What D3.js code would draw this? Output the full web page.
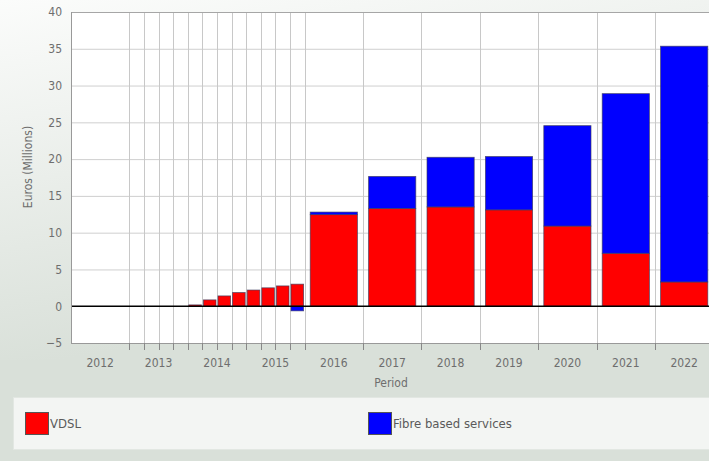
<!DOCTYPE html>
<html>
<head>
<meta charset="utf-8">
<script src="https://cdn.jsdelivr.net/npm/d3@7/dist/d3.min.js"></script>
<style>
  html, body { margin: 0; padding: 0; background: #ffffff; }
  svg { display: block; }
  text { font-family: "DejaVu Sans Condensed", "DejaVu Sans", sans-serif; font-stretch: condensed; }
</style>
</head>
<body>
<svg id="chart" width="709" height="461"></svg>
<script>
// Reporting periods: 2012 as a full year, 2013–2015 by quarter, then full years again
const periods = [
  "2012",
  "2013 Q1", "2013 Q2", "2013 Q3", "2013 Q4",
  "2014 Q1", "2014 Q2", "2014 Q3", "2014 Q4",
  "2015 Q1", "2015 Q2", "2015 Q3", "2015 Q4",
  "2016", "2017", "2018", "2019", "2020", "2021", "2022"
];
// Revenue by service, euros (millions)
const vdsl = [
  0,
  0, 0, 0, 0,
  0.18, 0.86, 1.4, 1.86,
  2.2, 2.5, 2.76, 3.0,
  12.45, 13.3, 13.5, 13.1, 10.9, 7.2, 3.3
];
const fibre = [
  0,
  0, 0, 0, 0,
  0, 0, 0, 0,
  0, 0, 0, -0.63,
  0.35, 4.35, 6.75, 7.25, 13.65, 21.7, 32.05
];
const years = ["2012", "2013", "2014", "2015", "2016", "2017", "2018", "2019", "2020", "2021", "2022"];
const yTicks = [-5, 0, 5, 10, 15, 20, 25, 30, 35, 40];
const seriesNames = ["VDSL", "Fibre based services"];
const seriesColors = ["#ff0000", "#0000ff"];

const svg = d3.select("#chart");
const W = 709, H = 461;
const plot = { left: 71, top: 12, bottom: 343 };

// Background panel
const defs = svg.append("defs");
const grad = defs.append("linearGradient").attr("id", "bg")
  .attr("gradientUnits", "userSpaceOnUse")
  .attr("x1", 0).attr("y1", 0).attr("x2", 60).attr("y2", 360);
grad.append("stop").attr("offset", 0).attr("stop-color", "#fbfcfb");
grad.append("stop").attr("offset", 1).attr("stop-color", "#d9e0d9");
svg.append("rect").attr("width", W).attr("height", H).attr("fill", "url(#bg)");
svg.append("rect").attr("y", 360).attr("width", W).attr("height", H - 360).attr("fill", "#d9e0d9");

// Each period occupies its length in quarters on a continuous axis
const span = p => p.includes("Q") ? 1 : 4;
const starts = [];
let acc = 0;
periods.forEach(p => { starts.push(acc); acc += span(p); });
const totalQ = acc;
const quarterPx = 14.6;
const x = d3.scaleLinear().domain([0, totalQ]).range([plot.left, plot.left + totalQ * quarterPx]);
const y = d3.scaleLinear().domain([-5, 40]).range([plot.bottom, plot.top]);

// Plot area
const clip = defs.append("clipPath").attr("id", "plotClip");
clip.append("rect").attr("x", plot.left).attr("y", plot.top)
  .attr("width", x(totalQ) - plot.left).attr("height", plot.bottom - plot.top);
svg.append("rect").attr("x", plot.left).attr("y", plot.top)
  .attr("width", x(totalQ) - plot.left).attr("height", plot.bottom - plot.top)
  .attr("fill", "#ffffff");

// Horizontal gridlines
svg.append("g").selectAll("line").data(yTicks.filter(v => v !== -5 && v !== 0))
  .join("line")
  .attr("x1", plot.left).attr("x2", x(totalQ))
  .attr("y1", d => y(d) + 0.5).attr("y2", d => y(d) + 0.5)
  .attr("stroke", "#cfcfcf").attr("stroke-width", 1);

// Vertical gridlines at every period boundary
const boundaries = starts.slice(1).concat([totalQ]);
svg.append("g").selectAll("line").data(boundaries)
  .join("line")
  .attr("x1", d => Math.round(x(d)) + 0.5).attr("x2", d => Math.round(x(d)) + 0.5)
  .attr("y1", plot.top).attr("y2", plot.bottom)
  .attr("stroke", "#c8c8c8").attr("stroke-width", 1);

// Stacked bars (negatives stack below zero)
const rows = periods.map((p, i) => ({ period: p, i, VDSL: vdsl[i], "Fibre based services": fibre[i] }));
const stacked = d3.stack().keys(seriesNames).offset(d3.stackOffsetDiverging)(rows);

const barGeom = i => {
  const s = span(periods[i]);
  const pad = s === 1 ? 1.0 : 5.6;
  const x0 = x(starts[i]) + pad;
  const x1 = x(starts[i] + s) - pad;
  return [x0, x1 - x0];
};

const bars = svg.append("g").attr("clip-path", "url(#plotClip)");
stacked.forEach((layer, k) => {
  bars.append("g").selectAll("rect")
    .data(layer.filter(d => d[1] - d[0] !== 0))
    .join("rect")
    .attr("x", d => barGeom(d.data.i)[0])
    .attr("width", d => barGeom(d.data.i)[1])
    .attr("y", d => y(Math.max(d[0], d[1])))
    .attr("height", d => Math.abs(y(d[0]) - y(d[1])))
    .attr("fill", seriesColors[k])
    .attr("stroke", "#3d3d5c").attr("stroke-width", 0.8).attr("stroke-opacity", 0.8);
});

// Zero line
svg.append("line")
  .attr("x1", plot.left).attr("x2", x(totalQ))
  .attr("y1", y(0)).attr("y2", y(0))
  .attr("stroke", "#000000").attr("stroke-width", 1.6);

// Frame: top border, left and bottom axis lines
svg.append("line").attr("x1", plot.left).attr("x2", x(totalQ))
  .attr("y1", plot.top + 0.5).attr("y2", plot.top + 0.5).attr("stroke", "#a6a6a6");
svg.append("line").attr("x1", plot.left + 0.5).attr("x2", plot.left + 0.5)
  .attr("y1", plot.top).attr("y2", plot.bottom).attr("stroke", "#999999");
svg.append("line").attr("x1", plot.left).attr("x2", x(totalQ))
  .attr("y1", plot.bottom + 0.5).attr("y2", plot.bottom + 0.5).attr("stroke", "#999999");

// X tick marks at period boundaries
svg.append("g").selectAll("line").data(boundaries)
  .join("line")
  .attr("x1", d => Math.round(x(d)) + 0.5).attr("x2", d => Math.round(x(d)) + 0.5)
  .attr("y1", plot.bottom).attr("y2", plot.bottom + 7)
  .attr("stroke", "#888888");

// Y axis labels
const yAxis = d3.axisLeft(y).tickValues(yTicks).tickSize(0).tickPadding(9);
const yG = svg.append("g").attr("transform", `translate(${plot.left},0)`).call(yAxis);
yG.select(".domain").remove();
yG.selectAll("text").attr("fill", "#6e6e6e").style("font-size", "12px")
  .style("font-family", "\"DejaVu Sans Condensed\", \"DejaVu Sans\", sans-serif");

// Year labels centred under each year
const yearCenter = yr => {
  const idx = periods.map((p, i) => i).filter(i => periods[i].startsWith(yr));
  const a = starts[idx[0]];
  const b = starts[idx[idx.length - 1]] + span(periods[idx[idx.length - 1]]);
  return x((a + b) / 2);
};
svg.append("g").selectAll("text").data(years)
  .join("text")
  .attr("x", d => yearCenter(d))
  .attr("y", 367)
  .attr("text-anchor", "middle")
  .attr("fill", "#6e6e6e").style("font-size", "12px")
  .text(d => d);

// Axis titles
svg.append("text").attr("x", 391).attr("y", 387).attr("text-anchor", "middle")
  .attr("fill", "#6e6e6e").style("font-size", "12px").text("Period");
svg.append("text").attr("transform", "translate(32,167) rotate(-90)")
  .attr("text-anchor", "middle")
  .attr("fill", "#6e6e6e").style("font-size", "12px").text("Euros (Millions)");

// Legend
svg.append("rect").attr("x", 13.5).attr("y", 397.5).attr("width", 710).attr("height", 52)
  .attr("fill", "#f3f5f3").attr("stroke", "#e2e7e2");
const legendX = [25, 368];
const lg = svg.append("g").selectAll("g").data(seriesNames).join("g")
  .attr("transform", (d, i) => `translate(${legendX[i]},412)`);
lg.append("rect").attr("x", 0.5).attr("y", 0.5).attr("width", 23).attr("height", 22)
  .attr("fill", (d, i) => seriesColors[i]).attr("stroke", "#555555");
lg.append("text").attr("x", 25).attr("y", 16)
  .attr("fill", "#5a5a5a").style("font-size", "13px").text(d => d);
</script>
</body>
</html>
